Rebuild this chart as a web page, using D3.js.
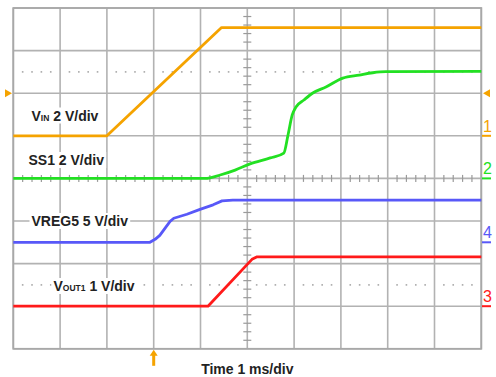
<!DOCTYPE html>
<html><head><meta charset="utf-8">
<script src="https://cdn.jsdelivr.net/npm/d3@7"></script>
<style>body{margin:0;background:#fff}svg{display:block}</style>
</head><body>
<svg id="c" width="496" height="377"></svg>
<script>
// ---- data (time in ms, values in volts) ----
const vinT  = [0, 2.0, 4.45, 10];
const vinV  = [0, 0, 5.08, 5.08];
const ss1T  = [0, 4.10, 4.42, 4.74, 5.06, 5.49, 5.78, 5.87, 5.96, 6.04, 6.21, 6.40, 6.68, 7.04, 7.39, 7.68, 7.96, 10];
const ss1V  = [0, 0, 0.16, 0.39, 0.68, 0.96, 1.19, 2.04, 2.98, 3.35, 3.68, 4.01, 4.29, 4.71, 4.85, 4.96, 5.01, 5.02];
const vregT = [0, 2.92, 3.03, 3.13, 3.35, 3.43, 3.71, 3.99, 4.27, 4.46, 4.69, 10];
const vregV = [0, 0, 0.35, 0.82, 2.46, 2.82, 3.29, 3.87, 4.40, 4.86, 4.94, 4.94];
const voutT = [0, 4.16, 5.10, 5.21, 10];
const voutV = [0, 0, 1.10, 1.16, 1.16];

const chanNames   = ["1", "2", "4", "3"];
const chanVPerDiv = [2, 2, 5, 1];
const chanOffset  = [1, 0, -1.5, -3];           // ground marker position in divisions
const chanColors  = ["#f5a300", "#22e022", "#5858f8", "#ff1a1a"];
const chanTimes   = [vinT, ss1T, vregT, voutT];
const chanValues  = [vinV, ss1V, vregV, voutV];
const chanSmooth  = [false, true, false, false];

const labelMain = ["V", "SS1 2 V/div", "VREG5 5 V/div", "V"];
const labelSub  = ["IN", "", "", "OUT1"];
const labelRest = [" 2 V/div", "", "", " 1 V/div"];
const xLabel = "Time 1 ms/div";
const triggerTime = 3.0;      // ms, trigger arrow
const triggerLevelDiv = 2;    // divisions, trigger level marker
const cursorDivs = [2.5, -2.5];

// ---- layout ----
const svg = d3.select("#c");
const L = 13.3, R = 481.3, T = 8, B = 348.8;
const x = d3.scaleLinear().domain([0, 10]).range([L, R]);
const y = d3.scaleLinear().domain([-4, 4]).range([B, T]);
const gridCol = "#b2b2b2";

svg.append("rect").attr("width", 496).attr("height", 377).attr("fill", "#fff");

const g = svg.append("g");
// major grid
g.selectAll(".vx").data(x.ticks(10)).join("line")
  .attr("x1", d => x(d)).attr("x2", d => x(d)).attr("y1", T).attr("y2", B)
  .attr("stroke", gridCol).attr("stroke-width", 1.6);
g.selectAll(".hy").data(y.ticks(8)).join("line")
  .attr("y1", d => y(d)).attr("y2", d => y(d)).attr("x1", L).attr("x2", R)
  .attr("stroke", gridCol).attr("stroke-width", 1.6);

// minor ticks on centre axes
const minorX = d3.range(0, 10.0001, 0.2).filter(d => Math.abs(d - Math.round(d)) > 1e-6);
const minorY = d3.range(-4, 4.0001, 0.2).filter(d => Math.abs(d - Math.round(d)) > 1e-6);
g.selectAll(".mx").data(minorX).join("line")
  .attr("x1", d => x(d)).attr("x2", d => x(d)).attr("y1", y(0) - 3.5).attr("y2", y(0) + 3.5)
  .attr("stroke", "#9a9a9a").attr("stroke-width", 1.2);
g.selectAll(".my").data(minorY).join("line")
  .attr("y1", d => y(d)).attr("y2", d => y(d)).attr("x1", x(5) - 4).attr("x2", x(5) + 4)
  .attr("stroke", "#9a9a9a").attr("stroke-width", 1.2);

// dotted cursor lines
cursorDivs.forEach(cd => {
  g.selectAll(null).data(minorX).join("rect")
    .attr("x", d => x(d) - 0.8).attr("y", y(cd) - 0.8).attr("width", 1.6).attr("height", 1.6)
    .attr("fill", "#a8a8a8");
});

// border
svg.append("rect").attr("x", L).attr("y", T).attr("width", R - L).attr("height", B - T)
  .attr("fill", "none").attr("stroke", "#a8a8a8").attr("stroke-width", 1.8);

// labels with white background
const labelX = [31.5, 28.5, 31.5, 53.5];
const labelY = [120.5, 165, 226, 291];
const labG = svg.append("g").attr("font-family", "Liberation Sans, Arial, sans-serif")
  .attr("font-weight", "bold").attr("fill", "#222");
labelMain.forEach((m, i) => {
  const grp = labG.append("g");
  const bg = grp.append("rect").attr("fill", "#fff");
  const t = grp.append("text").attr("x", labelX[i]).attr("y", labelY[i]).attr("font-size", 14);
  t.append("tspan").text(m);
  if (labelSub[i]) t.append("tspan").attr("font-size", 8.5).text(labelSub[i]);
  if (labelRest[i]) t.append("tspan").text(labelRest[i]);
  const bb = t.node().getBBox();
  bg.attr("x", bb.x - 2).attr("y", bb.y).attr("width", bb.width + 4).attr("height", bb.height);
});

// traces
chanNames.forEach((n, i) => {
  const pts = chanTimes[i].map((t, k) => [x(t), y(chanOffset[i] + chanValues[i][k] / chanVPerDiv[i])]);
  const line = d3.line().curve(chanSmooth[i] ? d3.curveMonotoneX : d3.curveLinear);
  svg.append("path").attr("d", line(pts)).attr("fill", "none")
    .attr("stroke", chanColors[i]).attr("stroke-width", 2.8).attr("stroke-linejoin", "round");
});

// channel ground markers at right
chanNames.forEach((n, i) => {
  const gy = y(chanOffset[i]);
  svg.append("text").attr("x", 483).attr("y", gy - 4).attr("font-size", 16)
    .attr("font-family", "Liberation Sans, Arial, sans-serif").attr("fill", chanColors[i]).text(n);
  svg.append("line").attr("x1", 482).attr("x2", 491).attr("y1", gy).attr("y2", gy)
    .attr("stroke", chanColors[i]).attr("stroke-width", 2);
});

// trigger level markers
const ty = y(triggerLevelDiv);
svg.append("path").attr("d", `M483,${ty} L490,${ty - 4} L490,${ty + 4} Z`).attr("fill", chanColors[0]);
svg.append("path").attr("d", `M12,${ty} L5,${ty - 4} L5,${ty + 4} Z`).attr("fill", chanColors[0]);
// trigger position arrow
const tx = x(triggerTime);
svg.append("path").attr("d", `M${tx},${B + 1} L${tx + 4},${B + 7} L${tx - 4},${B + 7} Z`).attr("fill", chanColors[0]);
svg.append("rect").attr("x", tx - 1.5).attr("y", B + 6).attr("width", 3).attr("height", 11).attr("fill", chanColors[0]);

// x label
svg.append("text").attr("x", x(5)).attr("y", 373.5).attr("text-anchor", "middle")
  .attr("font-family", "Liberation Sans, Arial, sans-serif").attr("font-weight", "bold")
  .attr("font-size", 14).attr("fill", "#222").text(xLabel);
</script>
</body></html>
